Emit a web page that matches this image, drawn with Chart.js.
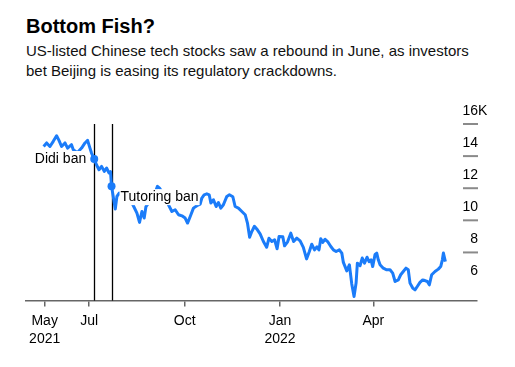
<!DOCTYPE html>
<html>
<head>
<meta charset="utf-8">
<script src="https://cdn.jsdelivr.net/npm/chart.js@4"></script>
<style>
  html, body { margin: 0; padding: 0; background: #fff; }
  body { width: 515px; height: 367px; position: relative; overflow: hidden; font-family: "Liberation Sans", Arial, sans-serif; }
  #title { position: absolute; left: 26px; top: 16px; font-size: 20px; line-height: 20px; font-weight: bold; color: #000; }
  #sub { position: absolute; left: 26px; top: 41px; font-size: 15px; line-height: 20px; color: #111; white-space: nowrap; }
  canvas { position: absolute; left: 0; top: 0; }
</style>
</head>
<body>
<div id="title">Bottom Fish?</div>
<div id="sub">US-listed Chinese tech stocks saw a rebound in June, as investors<br>bet Beijing is easing its regulatory crackdowns.</div>
<canvas id="chart" width="515" height="367"></canvas>
<script>
// x = days since 1 May 2021, values in thousands
const days = [
  17.0,19.9,23.1,26.3,29.5,31.8,34.3,37.6,40.1,43.9,
  45.6,49.4,53.6,56.9,59.4,61.7,63.2,65.8,68.0,70.4,
  72.9,75.5,77.7,80.0,81.5,82.5,86.1,87.7,89.9,95.7,
  103.1,107.0,109.5,111.8,114.0,115.7,118.2,122.7,126.8,128.8,
  131.1,134.3,137.4,140.7,143.9,147.1,150.4,153.5,155.8,158.4,
  161.5,164.8,168.0,169.6,171.8,174.4,176.7,178.3,180.8,183.4,
  185.6,187.9,190.4,193.7,196.2,199.5,201.7,204.9,208.2,211.4,
  213.6,215.7,217.8,220.3,223.2,225.8,229.0,232.1,234.3,237.1,
  239.8,242.2,244.1,247.7,249.4,252.3,255.4,258.1,261.2,264.4,
  267.5,270.6,273.3,275.6,278.3,280.7,282.6,284.3,286.2,288.5,
  290.9,294.0,296.5,299.1,302.2,304.6,306.1,309.4,311.9,314.2,
  316.4,318.4,319.6,322.2,324.3,326.5,328.9,330.9,332.8,334.4,
  336.7,338.3,339.8,341.5,344.6,347.9,351.1,353.7,356.0,359.1,
  361.4,363.9,366.5,368.7,370.4,373.0,375.2,377.4,380.0,382.6,
  384.8,387.1,389.0,391.3,394.5,397.7,400.0,401.6,402.6,404.5
];
const values = [
  14.60,14.82,14.60,14.92,15.27,14.98,14.60,14.82,14.50,14.71,
  14.40,14.21,14.50,14.82,14.98,14.50,14.19,13.82,13.46,13.15,
  13.36,13.05,13.26,12.95,13.03,12.13,10.70,11.49,11.70,11.41,
  10.97,10.45,9.87,10.55,10.14,10.86,11.08,11.41,12.12,12.01,
  11.78,11.28,10.97,10.55,10.66,10.35,10.28,10.14,9.83,10.24,
  10.76,10.91,11.01,11.39,11.59,11.65,11.59,11.08,11.28,10.86,
  11.11,10.76,10.97,11.49,11.59,11.47,10.86,10.76,10.55,10.35,
  9.83,8.94,9.30,9.63,9.41,9.16,8.68,8.32,8.88,8.68,
  8.79,8.23,8.99,8.97,8.41,8.66,9.20,8.68,8.89,8.72,
  8.32,7.60,8.06,8.51,8.16,8.35,8.16,8.85,8.63,8.82,
  8.68,8.37,8.16,8.06,8.16,7.96,7.38,6.85,7.23,6.04,
  5.25,6.11,7.33,7.17,7.65,7.33,7.70,7.43,7.54,7.12,
  7.88,7.96,7.54,7.23,7.02,6.92,6.92,6.71,6.19,6.29,
  6.61,6.81,7.02,6.92,6.09,5.78,5.67,5.88,6.13,6.29,
  6.25,6.19,5.98,6.61,6.81,6.96,7.12,7.54,7.96,7.43
];

// events
const eventDays   = [65.8, 82.5];
const eventValues = [13.82, 12.13];
const eventLabels = ["Didi ban", "Tutoring ban"];

// axis ticks
const xTickDays   = [18, 61, 153, 245, 335];
const xTickLabels = [["May", "2021"], "Jul", "Oct", ["Jan", "2022"], "Apr"];
const yTicks      = [6, 8, 10, 12, 14, 16];

const BLUE = "#1b7cf9";
const FONT = '"Liberation Sans", Arial, sans-serif';

const overlay = {
  id: "overlay",
  beforeDatasetsDraw(chart) {
    const { ctx, scales: { x }, chartArea } = chart;
    ctx.save();
    ctx.strokeStyle = "#000";
    ctx.lineWidth = 1.3;
    eventDays.forEach(d => {
      const px = Math.round(x.getPixelForValue(d)) + 0.5;
      ctx.beginPath();
      ctx.moveTo(px, chartArea.top);
      ctx.lineTo(px, chartArea.bottom);
      ctx.stroke();
    });
    ctx.restore();
  },
  afterDatasetsDraw(chart) {
    const { ctx, scales: { x, y } } = chart;
    ctx.save();
    ctx.font = "14px " + FONT;
    ctx.textBaseline = "middle";
    // event labels on white boxes
    eventDays.forEach((d, i) => {
      const px = x.getPixelForValue(d), py = y.getPixelForValue(eventValues[i]);
      const w = ctx.measureText(eventLabels[i]).width;
      let tx, ty;
      if (i === 0) { tx = px - 8 - w; ty = py; }
      else { tx = px + 9; ty = py + 11; }
      ctx.fillStyle = "#fff";
      ctx.fillRect(tx - 1, ty - 8, w + 2, 16);
      ctx.fillStyle = "#000";
      ctx.textAlign = "left";
      ctx.fillText(eventLabels[i], tx, ty);
    });
    // right-hand value labels sitting above short rules
    const right = 478;
    yTicks.forEach(v => {
      const py = y.getPixelForValue(v);
      if (v !== yTicks[0]) {
        ctx.strokeStyle = "#8a8a8a";
        ctx.lineWidth = 2;
        ctx.beginPath();
        ctx.moveTo(463, py);
        ctx.lineTo(right, py);
        ctx.stroke();
      }
      ctx.fillStyle = "#000";
      ctx.textAlign = "right";
      ctx.fillText(String(v), right, py - 13);
      if (v === yTicks[yTicks.length - 1]) {
        ctx.textAlign = "left";
        ctx.fillText("K", right, py - 13);
      }
    });
    ctx.restore();
  }
};

new Chart(document.getElementById("chart"), {
  type: "line",
  data: {
    datasets: [
      {
        type: "scatter",
        data: eventDays.map((d, i) => ({ x: d, y: eventValues[i] })),
        pointRadius: 4,
        pointBackgroundColor: BLUE,
        pointBorderWidth: 0,
        order: 0
      },
      {
        data: days.map((d, i) => ({ x: d, y: values[i] })),
        borderColor: BLUE,
        borderWidth: 3,
        pointRadius: 0,
        tension: 0,
        borderJoinStyle: "round",
        order: 1
      }
    ]
  },
  options: {
    responsive: false,
    devicePixelRatio: 1,
    animation: false,
    layout: { padding: { left: 26, right: 38, top: 124, bottom: 14 } },
    plugins: { legend: { display: false }, tooltip: { enabled: false }, title: { display: false } },
    scales: {
      x: {
        type: "linear",
        min: 0,
        max: 435,
        afterBuildTicks: (axis) => { axis.ticks = xTickDays.map(v => ({ value: v })); },
        ticks: {
          autoSkip: false,
          maxRotation: 0,
          padding: 5,
          color: "#000",
          font: { family: FONT, size: 14, lineHeight: 1.3 },
          callback: (v) => xTickLabels[xTickDays.indexOf(v)]
        },
        grid: { drawOnChartArea: false, tickLength: 6, color: "#666", lineWidth: 1.5 },
        border: { color: "#666", width: 1.5 }
      },
      y: { display: false, min: 5, max: 16 }
    }
  },
  plugins: [overlay]
});
</script>
</body>
</html>
